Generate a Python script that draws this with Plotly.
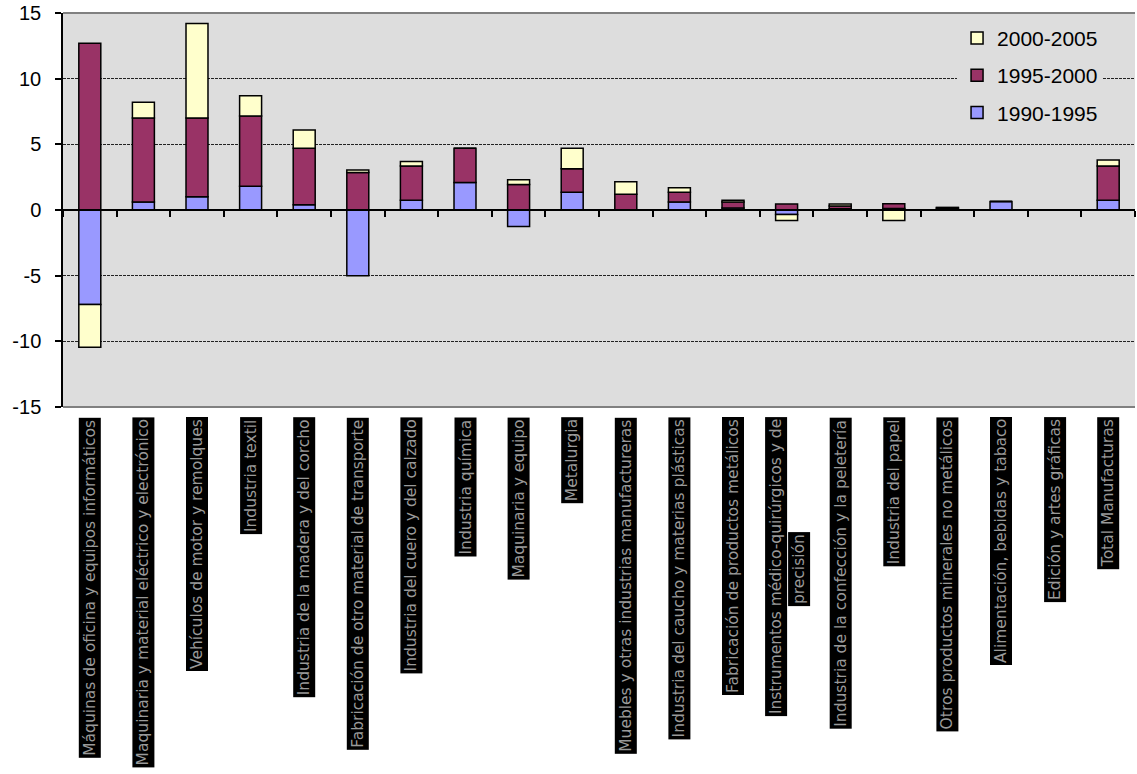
import plotly.graph_objects as go

categories = [
    "Máquinas de oficina y equipos informáticos",
    "Maquinaria y material eléctrico y electrónico",
    "Vehículos de motor y remolques",
    "Industria textil",
    "Industria de la madera y del corcho",
    "Fabricación de otro material de transporte",
    "Industria del cuero y del calzado",
    "Industria química",
    "Maquinaria y equipo",
    "Metalurgia",
    "Muebles y otras industrias manufactureras",
    "Industria del caucho y materias plásticas",
    "Fabricación de productos metálicos",
    "Instrumentos médico-quirúrgicos y de precisión",
    "Industria de la confección y la peletería",
    "Industria del papel",
    "Otros productos minerales no metálicos",
    "Alimentación, bebidas y tabaco",
    "Edición y artes gráficas",
    "Total Manufacturas",
]
# category label as wrapped in the chart (first line, second line)
label_lines = {
    "Instrumentos médico-quirúrgicos y de precisión": ["Instrumentos médico-quirúrgicos y de", "precisión"],
}

series_names = ["1990-1995", "1995-2000", "2000-2005"]
v_1990_1995 = [-7.2, 0.6, 1.0, 1.8, 0.4, -5.0, 0.75, 2.1, -1.25, 1.35, 0.0, 0.6, 0.15, -0.35, 0.1, 0.12, 0.05, 0.65, 0.0, 0.75]
v_1995_2000 = [12.7, 6.4, 6.0, 5.35, 4.3, 2.85, 2.6, 2.6, 1.95, 1.8, 1.2, 0.75, 0.45, 0.45, 0.2, 0.35, 0.1, 0.0, 0.0, 2.6]
v_2000_2005 = [-3.25, 1.2, 7.2, 1.55, 1.4, 0.2, 0.35, 0.0, 0.35, 1.55, 0.95, 0.35, 0.15, -0.45, 0.15, -0.8, 0.05, 0.0, 0.0, 0.45]
colors = ["#9999FF", "#993366", "#FFFFCC"]
legend_ranks = [3, 2, 1]

y_ticks = [-15, -10, -5, 0, 5, 10, 15]
y_ticktext = ["-15", "-10", "-5", "0", "5", "10", "15"]

FONT = "Liberation Sans, Arial, sans-serif"
LABEL_FONT = dict(family="DejaVu Sans, sans-serif", size=15.5, color="#9a9a9a")

fig = go.Figure()
for name, vals, col, rk in zip(series_names, [v_1990_1995, v_1995_2000, v_2000_2005], colors, legend_ranks):
    fig.add_trace(go.Bar(
        x=categories, y=vals, name=name, legendgroup=name, legendrank=rk,
        marker=dict(color=col, line=dict(color="black", width=1.5)),
    ))

annotations = []
for c in categories:
    if c in label_lines:
        l1, l2 = label_lines[c]
        annotations.append(dict(
            x=c, xref="x", y=0, yref="paper", yshift=-10, xshift=-11,
            xanchor="center", yanchor="top", textangle=-90,
            text=l1, showarrow=False, font=LABEL_FONT, bgcolor="black", borderpad=1.5,
        ))
        annotations.append(dict(
            x=c, xref="x", y=0, yref="paper", yshift=-162, xshift=12,
            xanchor="center", yanchor="middle", textangle=-90,
            text=l2, showarrow=False, font=LABEL_FONT, bgcolor="black", borderpad=1.5,
        ))
    else:
        annotations.append(dict(
            x=c, xref="x", y=0, yref="paper", yshift=-10,
            xanchor="center", yanchor="top", textangle=-90,
            text=c, showarrow=False, font=LABEL_FONT, bgcolor="black", borderpad=1.5,
        ))

fig.update_layout(
    width=1137, height=774,
    margin=dict(l=63, r=2, t=13, b=367),
    paper_bgcolor="white",
    plot_bgcolor="#DDDDDD",
    barmode="relative",
    bargap=0.59,
    font=dict(family=FONT, size=20, color="black"),
    showlegend=True,
    legend=dict(
        x=0.834, y=0.988, xanchor="left", yanchor="top",
        bgcolor="#DDDDDD", borderwidth=0,
        traceorder="grouped", tracegroupgap=7,
        font=dict(family=FONT, size=21, color="black"),
    ),
    xaxis=dict(
        type="category", anchor="free", position=0.5,
        showline=True, linecolor="black", linewidth=1.5,
        ticks="outside", tickson="boundaries", ticklen=6, tickwidth=1.5, tickcolor="black",
        showticklabels=False, showgrid=False, zeroline=False,
    ),
    yaxis=dict(
        range=[-15, 15], tickvals=y_ticks, ticktext=y_ticktext,
        showline=True, linecolor="black", linewidth=1.5,
        ticks="outside", ticklen=6, tickwidth=1.5, tickcolor="black",
        ticklabelstandoff=10,
        showgrid=True, gridcolor="#222222", gridwidth=1, griddash="3px,1px",
        zeroline=False,
        tickfont=dict(family=FONT, size=20, color="black"),
    ),
    annotations=annotations,
    shapes=[
        dict(type="line", xref="paper", yref="paper", x0=0, x1=1, y0=1, y1=1,
             line=dict(color="#808080", width=2), layer="between"),
        dict(type="line", xref="paper", yref="paper", x0=0, x1=1, y0=0, y1=0,
             line=dict(color="#808080", width=2), layer="between"),
    ],
)

fig.write_html(
    "out.html",
    config={"displayModeBar": False},
    post_script="document.body.style.margin='0';document.body.style.overflow='hidden';",
)
